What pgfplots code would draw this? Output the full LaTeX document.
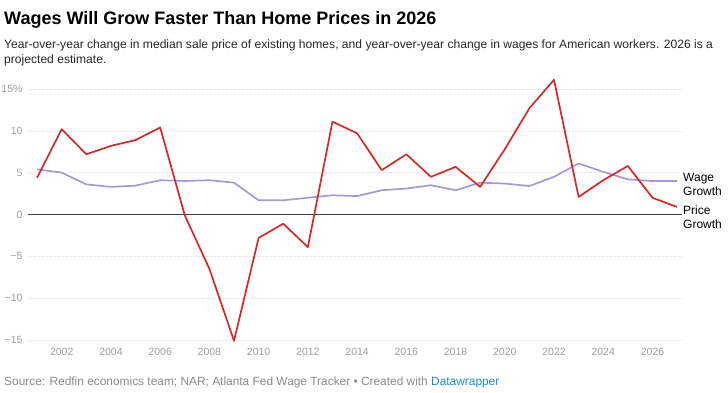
\documentclass[border=0pt]{standalone}
\usepackage{pgfplots}
\pgfplotsset{compat=1.18}
\usepackage{fontspec}
\setmainfont{Liberation Sans}
\definecolor{pricered}{HTML}{D42A2A}
\definecolor{wagepurple}{HTML}{A898D8}
\definecolor{ticklab}{HTML}{9E9E9E}
\definecolor{gridc}{HTML}{E2E2E2}
\definecolor{srcgray}{HTML}{8A8A8A}
\definecolor{dwblue}{HTML}{1E8BD0}
\begin{document}
\begin{tikzpicture}
\path[use as bounding box] (0pt,0pt) rectangle (728pt,393pt);
\node[anchor=base west,inner sep=0pt,font=\fontsize{18}{20}\selectfont\bfseries] at (4pt,368pt) {Wages Will Grow Faster Than Home Prices in 2026};
\node[anchor=base west,inner sep=0pt,font=\fontsize{12.1}{14}\selectfont,text=black!85] at (4pt,344pt) {Year-over-year change in median sale price of existing homes, and year-over-year change in wages for American workers. 2026 is a};
\node[anchor=base west,inner sep=0pt,font=\fontsize{12.1}{14}\selectfont,text=black!85] at (4pt,329pt) {projected estimate.};
\node[anchor=base west,inner sep=0pt,font=\fontsize{11.9}{13}\selectfont,text=srcgray] at (4pt,7pt) {Source: Redfin economics team; NAR; Atlanta Fed Wage Tracker \textbullet\ Created with \textcolor{dwblue}{Datawrapper}};
\begin{axis}[
  at={(28pt,53pt)}, anchor=south west,
  scale only axis, width=654pt, height=251pt,
  xmin=2000.63, xmax=2027.2, ymin=-15, ymax=15,
  axis line style={draw=none},
  major tick length=0pt,
  ytick={-15,-10,-5,5,10,15},
  yticklabels={−15,−10,−5,5,10,15\%},
  extra y ticks={0}, extra y tick labels={0},
  extra y tick style={grid style={black!75,line width=0.9pt,solid}},
  xtick={2002,2004,...,2026},
  xticklabels={2002,2004,2006,2008,2010,2012,2014,2016,2018,2020,2022,2024,2026},
  ymajorgrids,
  grid style={gridc,line width=0.5pt,dash pattern=on 1pt off 0.6pt},
  tick label style={font=\fontsize{10.5}{12}\selectfont,text=ticklab},
  yticklabel style={xshift=-2pt},
  xticklabel style={yshift=-5pt},
  clip=false,
]
\addplot[wagepurple,line width=1.7pt,line join=round] coordinates {
(2001,5.4)(2002,5.0)(2003,3.6)(2004,3.3)(2005,3.45)(2006,4.1)(2007,4.0)(2008,4.1)(2009,3.8)
(2010,1.7)(2011,1.7)(2012,2.0)(2013,2.3)(2014,2.2)(2015,2.9)(2016,3.1)(2017,3.5)(2018,2.9)
(2019,3.8)(2020,3.7)(2021,3.4)(2022,4.5)(2023,6.1)(2024,5.1)(2025,4.2)(2026,4.0)(2027,4.0)};
\addplot[pricered,line width=1.7pt,line join=round] coordinates {
(2001,4.4)(2002,10.2)(2003,7.2)(2004,8.2)(2005,8.9)(2006,10.4)(2007,-0.1)(2008,-6.5)(2009,-15.1)
(2010,-2.8)(2011,-1.1)(2012,-3.9)(2013,11.1)(2014,9.7)(2015,5.3)(2016,7.2)(2017,4.5)(2018,5.7)
(2019,3.3)(2020,7.8)(2021,12.7)(2022,16.1)(2023,2.1)(2024,4.1)(2025,5.8)(2026,2.0)(2027,0.9)};
\end{axis}
\node[anchor=west,inner sep=0pt,align=left,font=\fontsize{12}{13.5}\selectfont] at (683pt,208.5pt) {Wage\\Growth};
\node[anchor=west,inner sep=0pt,align=left,font=\fontsize{12}{13.5}\selectfont] at (683pt,176pt) {Price\\Growth};
\end{tikzpicture}
\end{document}
